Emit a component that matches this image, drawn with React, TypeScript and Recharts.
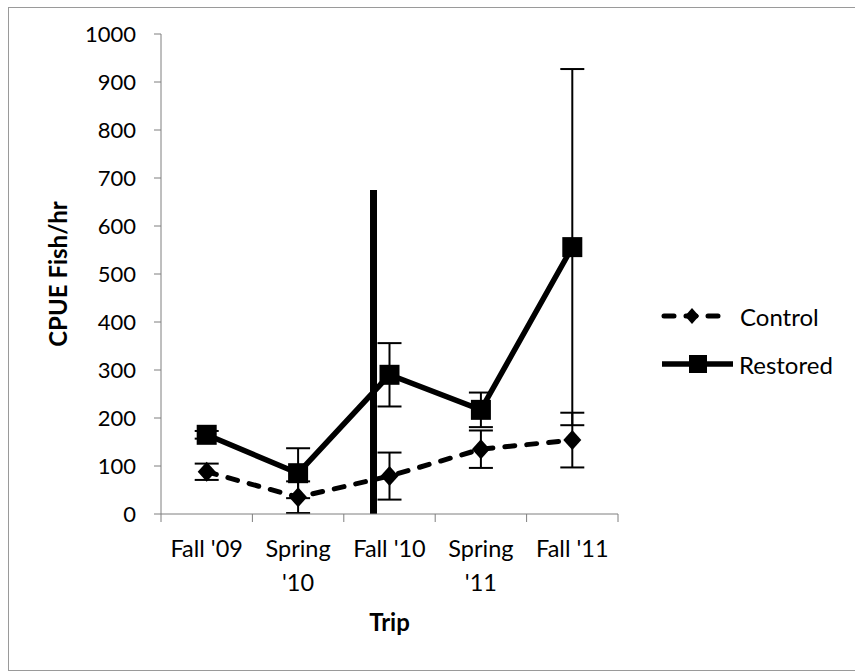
import React from "react";
import {
  ErrorBar,
  Line,
  LineChart,
  ReferenceLine,
  XAxis,
  YAxis,
} from "recharts";

const trips = ["Fall '09", "Spring '10", "Fall '10", "Spring '11", "Fall '11"];
const tripX = [0.5, 1.5, 2.5, 3.5, 4.5];
const controlCpue = [88, 35, 79, 135, 154];
const controlErr = [17, 33, 49, 39, 57];
const restoredCpue = [165, 85, 290, 217, 556];
const restoredErr = [8, 52, 66, 36, 371];
const yTicks = [0, 100, 200, 300, 400, 500, 600, 700, 800, 900, 1000];
const xTicks = [0, 0.5, 1, 1.5, 2, 2.5, 3, 3.5, 4, 4.5, 5];
// stray thick vertical stroke in the scanned figure
const strayX = 2.325;
const strayTop = 675;

const data = trips.map((trip, i) => ({
  trip,
  x: tripX[i],
  control: controlCpue[i],
  controlErr: controlErr[i],
  restored: restoredCpue[i],
  restoredErr: restoredErr[i],
}));

const FONT = "Lato, 'Open Sans', sans-serif";

function TripTick(props: any) {
  const { x, y, payload } = props;
  const v = payload.value as number;
  if (Number.isInteger(v)) {
    return <line x1={x} y1={y} x2={x} y2={y + 8} stroke="#7f7f7f" strokeWidth={1} />;
  }
  const label = trips[Math.round(v - 0.5)] ?? "";
  const lines = label.length > 8 ? label.split(" ") : [label];
  return (
    <text x={x} y={y + 43} textAnchor="middle" fontSize={23.5} fill="#000" fontFamily={FONT}>
      {lines.map((ln, i) => (
        <tspan key={i} x={x} dy={i === 0 ? 0 : 34}>
          {ln}
        </tspan>
      ))}
    </text>
  );
}

function DiamondDot(props: any) {
  const { cx, cy, index } = props;
  if (cx == null || cy == null) return <g key={`d${index}`} />;
  return (
    <polygon
      key={`d${index}`}
      points={`${cx},${cy - 10} ${cx + 9},${cy} ${cx},${cy + 10} ${cx - 9},${cy}`}
      fill="#000"
    />
  );
}

function SquareDot(props: any) {
  const { cx, cy, index } = props;
  if (cx == null || cy == null) return <g key={`s${index}`} />;
  return <rect key={`s${index}`} x={cx - 10} y={cy - 10} width={20} height={20} fill="#000" />;
}

export default function App() {
  return (
    <div
      style={{
        position: "absolute",
        left: 0,
        top: 0,
        width: 855,
        height: 672,
        overflow: "hidden",
        background: "#fff",
        fontFamily: FONT,
      }}
    >
      <div
        style={{
          position: "absolute",
          left: 8,
          top: 7,
          width: 860,
          height: 662,
          border: "1px solid #9a9a9a",
        }}
      />
      <LineChart
        width={855}
        height={672}
        data={data}
        margin={{ top: 34, right: 237, bottom: 58, left: 0 }}
        style={{ position: "absolute", left: 0, top: 0 }}
      >
        <XAxis
          type="number"
          dataKey="x"
          domain={[0, 5]}
          ticks={xTicks}
          interval={0}
          height={100}
          tickSize={0}
          tickMargin={0}
          tickLine={false}
          axisLine={{ stroke: "#7f7f7f", strokeWidth: 1 }}
          tick={<TripTick />}
          label={{
            value: "Trip",
            position: "center",
            dy: 58,
            style: { fontSize: 24, fontWeight: 700, fill: "#000", fontFamily: FONT },
          }}
        />
        <YAxis
          type="number"
          domain={[0, 1000]}
          ticks={yTicks}
          interval={0}
          width={161}
          tickSize={7}
          tickMargin={18}
          tickLine={{ stroke: "#7f7f7f" }}
          axisLine={{ stroke: "#7f7f7f", strokeWidth: 1 }}
          tick={{ fontSize: 22, fill: "#000", fontFamily: FONT }}
          label={{
            value: "CPUE Fish/hr",
            angle: -90,
            position: "center",
            dx: -22,
            style: { fontSize: 24, fontWeight: 700, fill: "#000", fontFamily: FONT },
          }}
        />
        <ReferenceLine
          segment={[
            { x: strayX, y: 0 },
            { x: strayX, y: strayTop },
          ]}
          stroke="#000"
          strokeWidth={7}
        />
        <Line
          type="linear"
          dataKey="control"
          stroke="#000"
          strokeWidth={5}
          strokeDasharray="10 12"
          strokeLinecap="round"
          dot={DiamondDot}
          activeDot={false}
          isAnimationActive={false}
        >
          <ErrorBar dataKey="controlErr" direction="y" width={12} stroke="#000" strokeWidth={2} />
        </Line>
        <Line
          type="linear"
          dataKey="restored"
          stroke="#000"
          strokeWidth={5.5}
          dot={SquareDot}
          activeDot={false}
          isAnimationActive={false}
        >
          <ErrorBar dataKey="restoredErr" direction="y" width={12} stroke="#000" strokeWidth={2} />
        </Line>
      </LineChart>
      <div style={{ position: "absolute", left: 660, top: 300 }}>
        <div style={{ display: "flex", alignItems: "center", height: 32 }}>
          <svg width={66} height={32}>
            <line x1={4} y1={16} x2={62} y2={16} stroke="#000" strokeWidth={5} strokeDasharray="10 12" strokeLinecap="round" />
            <polygon points="32,8 39,16 32,24 25,16" fill="#000" />
          </svg>
          <span style={{ fontSize: 24, color: "#000", marginLeft: 14 }}>Control</span>
        </div>
        <div style={{ display: "flex", alignItems: "center", height: 32, marginTop: 16 }}>
          <svg width={74} height={32}>
            <line x1={2} y1={16} x2={73} y2={16} stroke="#000" strokeWidth={5.5} />
            <rect x={29} y={7} width={18} height={18} fill="#000" />
          </svg>
          <span style={{ fontSize: 24, color: "#000", marginLeft: 5 }}>Restored</span>
        </div>
      </div>
    </div>
  );
}
